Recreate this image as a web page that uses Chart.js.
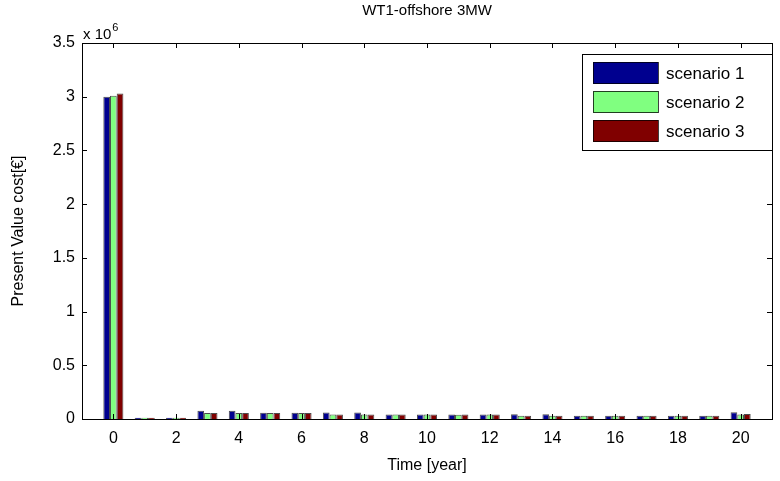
<!DOCTYPE html>
<html>
<head>
<meta charset="utf-8">
<script src="https://cdn.jsdelivr.net/npm/chart.js@4/dist/chart.umd.min.js"></script>
<style>
html,body{margin:0;padding:0;background:#fff;}
#wrap{width:780px;height:481px;position:relative;}
</style>
</head>
<body>
<div id="wrap"><canvas id="c" width="780" height="481"></canvas></div>
<script>
const years = [0,1,2,3,4,5,6,7,8,9,10,11,12,13,14,15,16,17,18,19,20];
const scenario1 = [3000000,12000,12000,76000,76000,58000,58000,60000,60000,43000,43000,43000,43000,45000,45000,30000,30000,30000,30000,30000,62000];
const scenario2 = [3010000,12000,12000,57000,57000,57000,57000,43000,43000,43000,43000,40000,43000,30000,30000,30000,30000,30000,30000,30000,43000];
const scenario3 = [3030000,12000,12000,57000,57000,57000,57000,43000,43000,43000,43000,43000,43000,30000,30000,30000,30000,30000,30000,30000,46000];
const seriesLabels = ['scenario 1','scenario 2','scenario 3'];
const seriesColors = ['rgb(0,0,143)','rgb(128,255,128)','rgb(128,0,0)'];
const xTickValues = [0,2,4,6,8,10,12,14,16,18,20];
const yTickValues = [0,500000,1000000,1500000,2000000,2500000,3000000,3500000];
const chartTitle = 'WT1-offshore 3MW';
const xTitle = 'Time [year]';
const yTitle = 'Present Value cost[€]';

const FONT = '"Liberation Sans", Arial, sans-serif';
const seriesData = [scenario1, scenario2, scenario3];

const decor = {
  id: 'decor',
  afterDraw(chart) {
    const ctx = chart.ctx;
    const a = chart.chartArea;
    const xs = chart.scales.x, ys = chart.scales.y;
    ctx.save();
    ctx.strokeStyle = '#000';
    ctx.lineWidth = 1;
    // box
    ctx.strokeRect(Math.round(a.left)+0.5, Math.round(a.top)+0.5, Math.round(a.right-a.left), Math.round(a.bottom-a.top));
    // inward ticks
    const tl = 5;
    ctx.beginPath();
    xTickValues.forEach(v => {
      const px = Math.round(xs.getPixelForValue(v)) + 0.5;
      ctx.moveTo(px, a.bottom); ctx.lineTo(px, a.bottom - tl);
      ctx.moveTo(px, a.top); ctx.lineTo(px, a.top + tl);
    });
    yTickValues.forEach(v => {
      const py = Math.round(ys.getPixelForValue(v)) + 0.5;
      ctx.moveTo(a.left, py); ctx.lineTo(a.left + tl, py);
      ctx.moveTo(a.right, py); ctx.lineTo(a.right - tl, py);
    });
    ctx.stroke();
    // title
    ctx.fillStyle = '#000';
    ctx.font = '15px ' + FONT;
    ctx.textAlign = 'center';
    ctx.textBaseline = 'middle';
    ctx.fillText(chartTitle, (a.left + a.right)/2, 11);
    // axis titles
    ctx.font = '16px ' + FONT;
    ctx.fillText(xTitle, (a.left + a.right)/2, 466);
    ctx.save();
    ctx.translate(19, (a.top + a.bottom)/2);
    ctx.rotate(-Math.PI/2);
    ctx.fillText(yTitle, 0, 0);
    ctx.restore();
    // exponent
    ctx.textAlign = 'left';
    ctx.font = '15px ' + FONT;
    ctx.fillText('x 10', a.left + 1, 35);
    const w = ctx.measureText('x 10').width;
    ctx.font = '11px ' + FONT;
    ctx.fillText('6', a.left + 2 + w, 28);
    // legend
    const lx = 582, ly = 54, lw = 190, lh = 96;
    ctx.fillStyle = '#fff';
    ctx.fillRect(lx, ly, lw, lh);
    ctx.strokeStyle = '#000';
    ctx.strokeRect(lx+0.5, ly+0.5, lw, lh);
    ctx.font = '17px ' + FONT;
    ctx.textBaseline = 'middle';
    const centers = [73, 102, 131];
    seriesLabels.forEach((lab, i) => {
      const cy = centers[i];
      ctx.fillStyle = seriesColors[i];
      ctx.fillRect(593, cy - 11, 65, 22);
      ctx.strokeStyle = 'rgba(0,0,0,0.75)';
      ctx.strokeRect(593.5, cy - 10.5, 65, 21);
      ctx.fillStyle = '#000';
      ctx.fillText(lab, 666, cy + 1);
    });
    ctx.restore();
  }
};

new Chart(document.getElementById('c'), {
  type: 'bar',
  data: {
    datasets: seriesData.map((arr, i) => ({
      label: seriesLabels[i],
      data: years.map((y, j) => ({x: y, y: arr[j]})),
      backgroundColor: seriesColors[i],
      borderColor: 'rgba(0,0,0,0.7)',
      borderWidth: 1,
      categoryPercentage: 0.64,
      barPercentage: 1.0
    }))
  },
  options: {
    responsive: false,
    animation: false,
    layout: { padding: { top: 43, right: 8, left: 0, bottom: 0 } },
    plugins: { legend: { display: false }, title: { display: false }, tooltip: { enabled: false } },
    scales: {
      x: {
        type: 'linear',
        offset: false,
        min: -1, max: 21,
        grid: { display: false, drawTicks: false },
        border: { display: false },
        afterBuildTicks(scale) { scale.ticks = xTickValues.map(v => ({value: v})); },
        afterFit(scale) { scale.height = 62; },
        ticks: { color: '#000', font: { family: FONT, size: 16 }, padding: 10, maxRotation: 0, autoSkip: false,
                 callback: v => String(v) }
      },
      y: {
        min: 0, max: 3500000,
        grid: { display: false, drawTicks: false },
        border: { display: false },
        afterBuildTicks(scale) { scale.ticks = yTickValues.map(v => ({value: v})); },
        afterFit(scale) { scale.width = 82; },
        ticks: { color: '#000', font: { family: FONT, size: 16 }, padding: 7,
                 callback: v => String(v / 1e6) }
      }
    }
  },
  plugins: [decor]
});
</script>
</body>
</html>
